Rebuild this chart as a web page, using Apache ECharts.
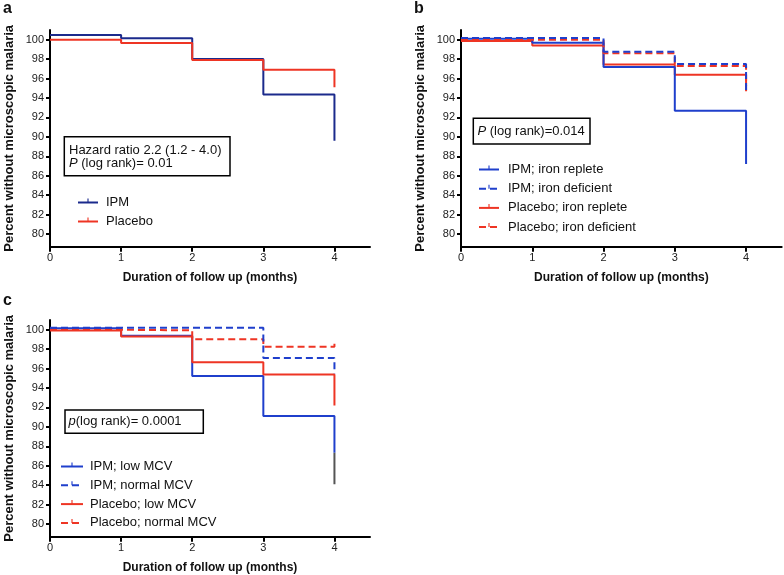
<!DOCTYPE html>
<html>
<head>
<meta charset="utf-8">
<script src="https://cdn.jsdelivr.net/npm/echarts@6/dist/echarts.min.js"></script>
<style>html,body{margin:0;padding:0;background:#fff}#c{width:784px;height:575px}</style>
</head>
<body>
<div id="c"></div>
<script>
// ---- data ----
const months = [0, 1, 2, 3, 4];
const xTicks = [0, 1, 2, 3, 4];
const yTicks = [80, 82, 84, 86, 88, 90, 92, 94, 96, 98, 100];

// panel a
const ipmA = [100.48, 100.14, 98.02, 94.37, 89.6];
const placeboA = [100.0, 99.66, 97.9, 96.9, 95.1];

// panel b
const ipmReplete = [100.1, 99.7, 97.2, 92.7, 87.2];
const ipmDeficient = [100.17, 100.17, 98.76, 97.5, 94.8];
const placeboReplete = [99.86, 99.4, 97.45, 96.4, 95.2];
const placeboDeficient = [100.0, 100.0, 98.6, 97.3, 94.7];

// panel c
const ipmLowMCV = [100.14, 99.38, 95.24, 91.13, 87.35];
const ipmLowMCVTail = [87.35, 84.1];
const ipmNormalMCV = [100.2, 100.2, 100.2, 97.1, 95.5];
const placeboLowMCV = [99.93, 99.3, 96.65, 95.4, 92.2];
const placeboNormalMCV = [100.0, 99.93, 99.03, 98.24, 98.6];

// ---- styles ----
const FONT = "'Liberation Sans', Arial, Helvetica, sans-serif";
const NAVY = '#1b2a8c';
const BLUE = '#1f3fcc';
const RED = '#ee3524';
const GRAY = '#555555';
const TICK = 'path://M4.3,0h1.4v5h-1.4z M0,9.98h0.02v0.02h-0.02z M9.98,9.98h0.02v0.02h-0.02z';

const pts = v => months.map((m, i) => [m, v[i]]);

function xAxis(gi) {
  return {
    type: 'value', gridIndex: gi, min: 0, max: 4.5,
    name: 'Duration of follow up (months)', nameLocation: 'middle', nameGap: 25,
    nameTextStyle: { fontFamily: FONT, fontWeight: 'bold', fontSize: 12, color: '#111' },
    axisLine: { show: true, lineStyle: { color: '#000', width: 2 } },
    axisTick: { show: true, length: 5, lineStyle: { color: '#000', width: 2 }, customValues: xTicks },
    axisLabel: { fontFamily: FONT, fontSize: 11, color: '#222', margin: 6, customValues: xTicks },
    splitLine: { show: false }
  };
}
function yAxis(gi) {
  return {
    type: 'value', gridIndex: gi, min: 78.7, max: 101,
    name: 'Percent without microscopic malaria', nameLocation: 'middle', nameGap: 34, nameRotate: 90,
    nameTextStyle: { fontFamily: FONT, fontWeight: 'bold', fontSize: 13, color: '#111' },
    axisLine: { show: true, lineStyle: { color: '#000', width: 2 } },
    axisTick: { show: true, length: 4, lineStyle: { color: '#000', width: 2 }, customValues: yTicks },
    axisLabel: { fontFamily: FONT, fontSize: 11, color: '#222', margin: 6, customValues: yTicks },
    splitLine: { show: false }
  };
}
function line(name, gi, data, color, dashed, z) {
  return {
    type: 'line', name: name, xAxisIndex: gi, yAxisIndex: gi, data: data,
    step: 'end', showSymbol: false, symbol: TICK, symbolSize: 8, z: z || 2,
    color: color,
    lineStyle: { color: color, width: 2, type: dashed ? [7, 4] : 'solid' },
    itemStyle: { color: color },
    emphasis: { disabled: true }, animation: false
  };
}
function legend(names, left, top, gap, w, pad) {
  return {
    data: names, orient: 'vertical', left: left, top: top, itemGap: gap,
    itemWidth: w, itemHeight: 10, selectedMode: false,
    textStyle: { fontFamily: FONT, fontSize: 13, color: '#111', padding: [0, 0, 0, pad] }
  };
}
function box(x, y, w, h, tx, ty, text) {
  return [
    { type: 'rect', shape: { x: x, y: y, width: w, height: h }, style: { fill: '#fff', stroke: '#000', lineWidth: 1.5 }, z: 10 },
    { type: 'text', x: tx, y: ty, z: 11, style: {
      text: text, fontFamily: FONT, fontSize: 13, fill: '#111', lineHeight: 13.5,
      rich: { i: { fontStyle: 'italic', fontFamily: FONT, fontSize: 13, fill: '#111' } }
    } }
  ];
}

const chart = echarts.init(document.getElementById('c'), null, { renderer: 'canvas' });
chart.setOption({
  backgroundColor: '#fff',
  animation: false,
  grid: [
    { left: 50, top: 30, width: 320, height: 216.7 },
    { left: 461, top: 30, width: 320.7, height: 216.7 },
    { left: 50, top: 320, width: 320, height: 216.7 }
  ],
  xAxis: [xAxis(0), xAxis(1), xAxis(2)],
  yAxis: [yAxis(0), yAxis(1), yAxis(2)],
  legend: [
    legend(['IPM', 'Placebo'], 72, 191, 6, 20, 3),
    legend(['IPM; iron replete', 'IPM; iron deficient', 'Placebo; iron replete', 'Placebo; iron deficient'], 473, 158, 6.2, 20, 4),
    legend(['IPM; low MCV', 'IPM; normal MCV', 'Placebo; low MCV', 'Placebo; normal MCV'], 55, 455, 5.8, 22, 2)
  ],
  series: [
    line('IPM', 0, pts(ipmA), NAVY, false, 2),
    line('Placebo', 0, pts(placeboA), RED, false, 3),

    line('IPM; iron replete', 1, pts(ipmReplete), BLUE, false, 3),
    line('Placebo; iron replete', 1, pts(placeboReplete), RED, false, 2),
    line('Placebo; iron deficient', 1, pts(placeboDeficient), RED, true, 4),
    line('IPM; iron deficient', 1, pts(ipmDeficient), BLUE, true, 5),

    line('IPM; low MCV', 2, pts(ipmLowMCV), BLUE, false, 3),
    line('tail', 2, ipmLowMCVTail.map(v => [4, v]), GRAY, false, 3),
    line('Placebo; low MCV', 2, pts(placeboLowMCV), RED, false, 4),
    line('Placebo; normal MCV', 2, pts(placeboNormalMCV), RED, true, 4),
    line('IPM; normal MCV', 2, pts(ipmNormalMCV), BLUE, true, 5)
  ],
  graphic: [
    { type: 'text', x: 3, y: 1, style: { text: 'a', fontFamily: FONT, fontWeight: 'bold', fontSize: 16, fill: '#111' } },
    { type: 'text', x: 414, y: 1, style: { text: 'b', fontFamily: FONT, fontWeight: 'bold', fontSize: 16, fill: '#111' } },
    { type: 'text', x: 3, y: 293, style: { text: 'c', fontFamily: FONT, fontWeight: 'bold', fontSize: 16, fill: '#111' } }
  ]
    .concat(box(64.3, 136.7, 165.7, 39, 69, 143.5, 'Hazard ratio 2.2 (1.2 - 4.0)\n{i|P} (log rank)= 0.01'))
    .concat(box(473.3, 118.3, 116.7, 25.7, 477.5, 124.5, '{i|P} (log rank)=0.014'))
    .concat(box(65, 410, 138.3, 23.3, 68.5, 415, '{i|p}(log rank)= 0.0001'))
});
</script>
</body>
</html>
